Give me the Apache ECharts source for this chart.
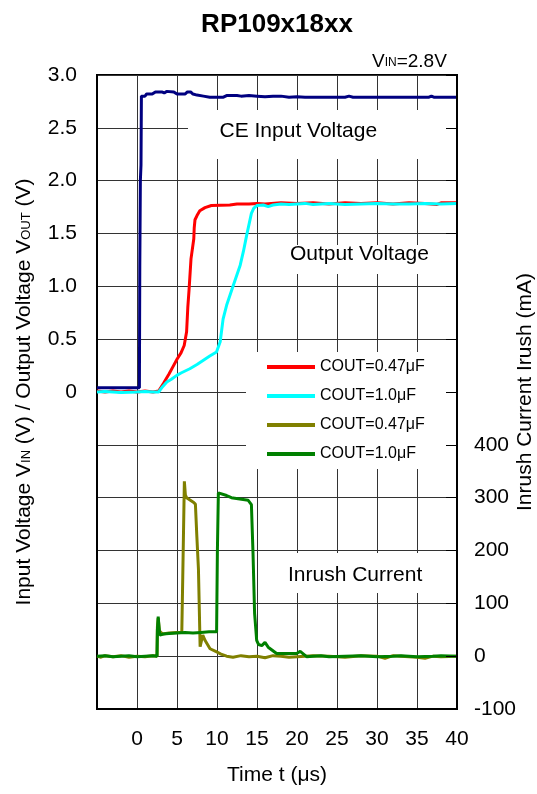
<!DOCTYPE html>
<html><head><meta charset="utf-8">
<script src="https://cdn.jsdelivr.net/npm/echarts@6/dist/echarts.min.js"></script>
<style>html,body{margin:0;padding:0;background:#fff}#c{width:537px;height:794px}</style>
</head><body><div id="c"></div>
<script>
const FONT = 'Arial, "Liberation Sans", sans-serif';

// CE input voltage (V) vs time (us)
const ceInput = [[-5,0.04],[0.3,0.04],[0.35,1.2],[0.42,2.0],[0.5,2.15],[0.55,2.8],[1.0,2.8],[1.2,2.82],[1.9,2.82],[2.3,2.84],[3.1,2.84],[3.4,2.83],[3.7,2.845],[4.6,2.84],[5.0,2.82],[6.0,2.82],[6.3,2.84],[6.7,2.84],[7.0,2.82],[7.5,2.81],[8.3,2.80],[9.1,2.79],[10.8,2.79],[11.2,2.805],[12.5,2.805],[13,2.80],[14,2.805],[15,2.80],[16,2.795],[17,2.80],[18,2.80],[19,2.79],[20,2.795],[21,2.79],[26,2.79],[26.5,2.80],[27,2.79],[36.5,2.79],[36.8,2.80],[37.1,2.79],[40,2.79]];
// Output voltage (V), COUT=0.47uF
const vout047 = [[-5,0.01],[-4,0.0],[-3,0.01],[-2,0.0],[-1,0.01],[0,0.0],[1,0.01],[2,0.0],[2.7,0.01],[3.3,0.08],[4.0,0.17],[4.5,0.24],[5.0,0.31],[5.5,0.37],[5.9,0.44],[6.2,0.57],[6.35,0.8],[6.5,0.96],[6.75,1.26],[7.1,1.45],[7.15,1.55],[7.25,1.63],[7.5,1.67],[7.85,1.715],[8.5,1.745],[9.3,1.765],[11.6,1.77],[12.5,1.78],[14,1.78],[15,1.785],[16,1.78],[18,1.79],[20,1.785],[22,1.79],[24,1.78],[26,1.79],[28,1.785],[30,1.79],[32,1.78],[34,1.79],[36,1.785],[37.5,1.775],[38,1.79],[40,1.79]];
// Output voltage (V), COUT=1.0uF
const vout10 = [[-5,0.0],[-4,0.005],[-2,-0.005],[0,0.0],[1,0.005],[2,0.0],[2.7,0.0],[3.2,0.05],[3.73,0.094],[4.3,0.12],[4.97,0.157],[5.5,0.18],[6.6,0.22],[7.5,0.26],[8.3,0.30],[9.1,0.34],[9.94,0.378],[10.4,0.475],[10.76,0.69],[11.2,0.82],[12.0,1.0],[12.9,1.2],[13.3,1.33],[13.7,1.48],[14.3,1.69],[14.6,1.74],[15.0,1.765],[15.8,1.77],[16.4,1.755],[17,1.77],[18,1.78],[19,1.775],[20,1.78],[21,1.785],[22,1.775],[23,1.78],[24,1.785],[26,1.775],[28,1.78],[30,1.785],[32,1.78],[34,1.78],[36,1.785],[38,1.78],[40,1.785]];
// Inrush current (mA), COUT=0.47uF
const irush047 = [[-5,0],[-4.5,-2],[-4,1],[-3,-1],[-2,1],[-1,-2],[0,0],[1,-1],[2,1],[2.5,0],[2.55,55],[2.65,72],[2.8,48],[3.2,42],[4,44],[5,45],[5.6,45],[5.72,150],[5.92,331],[6.05,305],[6.2,300],[7.0,292],[7.3,288],[7.47,230],[7.68,165],[7.89,18],[8.22,40],[8.5,30],[9.13,14],[9.96,8],[10.5,4],[11.2,0],[12,-2],[13,1],[14,-1],[15,0],[16,-3],[17,1],[18,0],[19,-2],[20,-1],[22,1],[24,0],[26,-2],[28,1],[30,0],[31,-4],[32,1],[34,-1],[35,-2],[36,-4],[37,0],[38,-1],[40,0]];
// Inrush current (mA), COUT=1.0uF
const irush10 = [[-5,0],[-4,1],[-3,-1],[-2,0],[-1,1],[0,-1],[1,0],[2,1],[2.5,0],[2.55,50],[2.65,75],[2.75,55],[2.85,40],[3.3,42],[4,43],[5,44],[6,45],[7,44],[8,45],[9,46],[9.95,46],[10.05,200],[10.17,309],[11.2,304],[11.8,300],[12.05,297],[13.9,295],[14.3,287],[14.5,196],[14.7,81],[14.96,30],[15.2,22],[15.6,20],[16.0,26],[16.4,17],[17.45,5],[19.95,5],[20.4,9],[21.2,-1],[22,0],[23,1],[24,-1],[26,0],[28,1],[30,-1],[32,0],[33,1],[35,-1],[37,0],[38,1],[40,0]];

const seriesKeys = ['vout047','vout10','irush047','irush10'];
const legendLabels = ['COUT=0.47μF','COUT=1.0μF','COUT=0.47μF','COUT=1.0μF'];
const seriesColors = {ce:'#000080', vout047:'#ff0000', vout10:'#00ffff', irush047:'#808000', irush10:'#008000'};

const chart = echarts.init(document.getElementById('c'), null, {renderer:'canvas'});
const lineSeries = (name, data, axis) => ({
  name, type:'line', data, yAxisIndex:axis, showSymbol:false, symbol:'none',
  lineStyle:{width:3, color:seriesColors[name]}, itemStyle:{color:seriesColors[name]},
  animation:false, z:2
});
const txt = (text, x, y, size) => ({
  type:'text', x, y, z:10, silent:true,
  style:{text, fill:'#000', font: size + 'px ' + FONT, fontSize:size, fontFamily:FONT,
         align:'left', verticalAlign:'middle', textAlign:'left', textVerticalAlign:'middle'}
});
const box = (x, y, w, h) => ({type:'rect', z:1, silent:true, shape:{x, y, width:w, height:h}, style:{fill:'#fff'}});

chart.setOption({
  animation:false,
  backgroundColor:'#fff',
  textStyle:{fontFamily:FONT},
  title:[
    {text:'RP109x18xx', left:277, top:12, textAlign:'center', padding:0,
     textStyle:{fontSize:26, fontWeight:'bold', color:'#000', fontFamily:FONT}},
    {text:'V{s|IN}=2.8V', left:372, top:52, padding:0,
     textStyle:{fontSize:19, fontWeight:'normal', color:'#000', fontFamily:FONT,
       rich:{s:{fontSize:12, fontWeight:'normal', color:'#000', fontFamily:FONT, verticalAlign:'bottom', padding:[0,0,2,0]}}}}
  ],
  grid:{left:97, right:80, top:75, bottom:85, show:true, borderColor:'#000', borderWidth:2, outerBoundsMode:'none', containLabel:false},
  legend:{
    data:seriesKeys, orient:'vertical', left:267, top:359, itemWidth:48, itemHeight:4, itemGap:13,
    icon:'rect', selectedMode:false, z:10, padding:0,
    formatter:(name)=>legendLabels[seriesKeys.indexOf(name)],
    textStyle:{fontSize:16, color:'#000', fontFamily:FONT}
  },
  xAxis:{
    type:'value', min:-5, max:40, interval:5,
    name:'Time t (μs)', nameLocation:'middle', nameGap:56, nameMoveOverlap:false,
    nameTextStyle:{fontSize:21, color:'#000', fontFamily:FONT},
    axisLine:{show:true, onZero:false, lineStyle:{color:'#000', width:2}},
    axisTick:{show:false},
    axisLabel:{margin:20, fontSize:21, color:'#000', fontFamily:FONT, showMinLabel:true, showMaxLabel:true,
      formatter:(v)=> v < 0 ? '' : String(v)},
    splitLine:{show:true, lineStyle:{color:'#333', width:1}}
  },
  yAxis:[
    {type:'value', min:-3, max:3, interval:0.5, position:'left',
     name:'Input Voltage V{s|IN} (V) / Output Voltage V{s|OUT} (V)', nameLocation:'middle', nameGap:62, nameMoveOverlap:false,
     nameTextStyle:{fontSize:21, color:'#000', fontFamily:FONT,
       rich:{s:{fontSize:13, color:'#000', fontFamily:FONT, verticalAlign:'bottom', padding:[0,0,2,0]}}},
     axisLine:{show:true, onZero:false, lineStyle:{color:'#000', width:2}},
     axisTick:{show:false},
     axisLabel:{margin:20, fontSize:21, color:'#000', fontFamily:FONT, showMinLabel:true, showMaxLabel:true,
       formatter:(v)=> v < -1e-9 ? '' : (Math.abs(v) < 1e-9 ? '0' : v.toFixed(1))},
     splitLine:{show:true, lineStyle:{color:'#333', width:1}}},
    {type:'value', min:-100, max:1100, interval:100, position:'right', z:3,
     name:'Inrush Current Irush (mA)', nameLocation:'middle', nameGap:58, nameMoveOverlap:false,
     nameTextStyle:{fontSize:21, color:'#000', fontFamily:FONT},
     axisLine:{show:true, onZero:false, lineStyle:{color:'#000', width:2}},
     axisTick:{show:true, inside:true, length:11, lineStyle:{color:'#000', width:1}},
     axisLabel:{margin:17, fontSize:21, color:'#000', fontFamily:FONT, showMinLabel:true, showMaxLabel:true,
       formatter:(v)=> v <= 400 ? String(v) : ''},
     splitLine:{show:false}}
  ],
  graphic:[
    box(188,110,268,49),
    box(283,245,173,29),
    box(246,352,210,117),
    box(280,553,176,40),
    txt('CE Input Voltage', 219.5, 131.5, 21),
    txt('Output Voltage', 290, 254.5, 21),
    txt('Inrush Current', 288, 575, 21)
  ],
  series:[
    lineSeries('ce', ceInput, 0),
    lineSeries('vout047', vout047, 0),
    lineSeries('vout10', vout10, 0),
    lineSeries('irush047', irush047, 1),
    lineSeries('irush10', irush10, 1)
  ]
});
</script></body></html>
